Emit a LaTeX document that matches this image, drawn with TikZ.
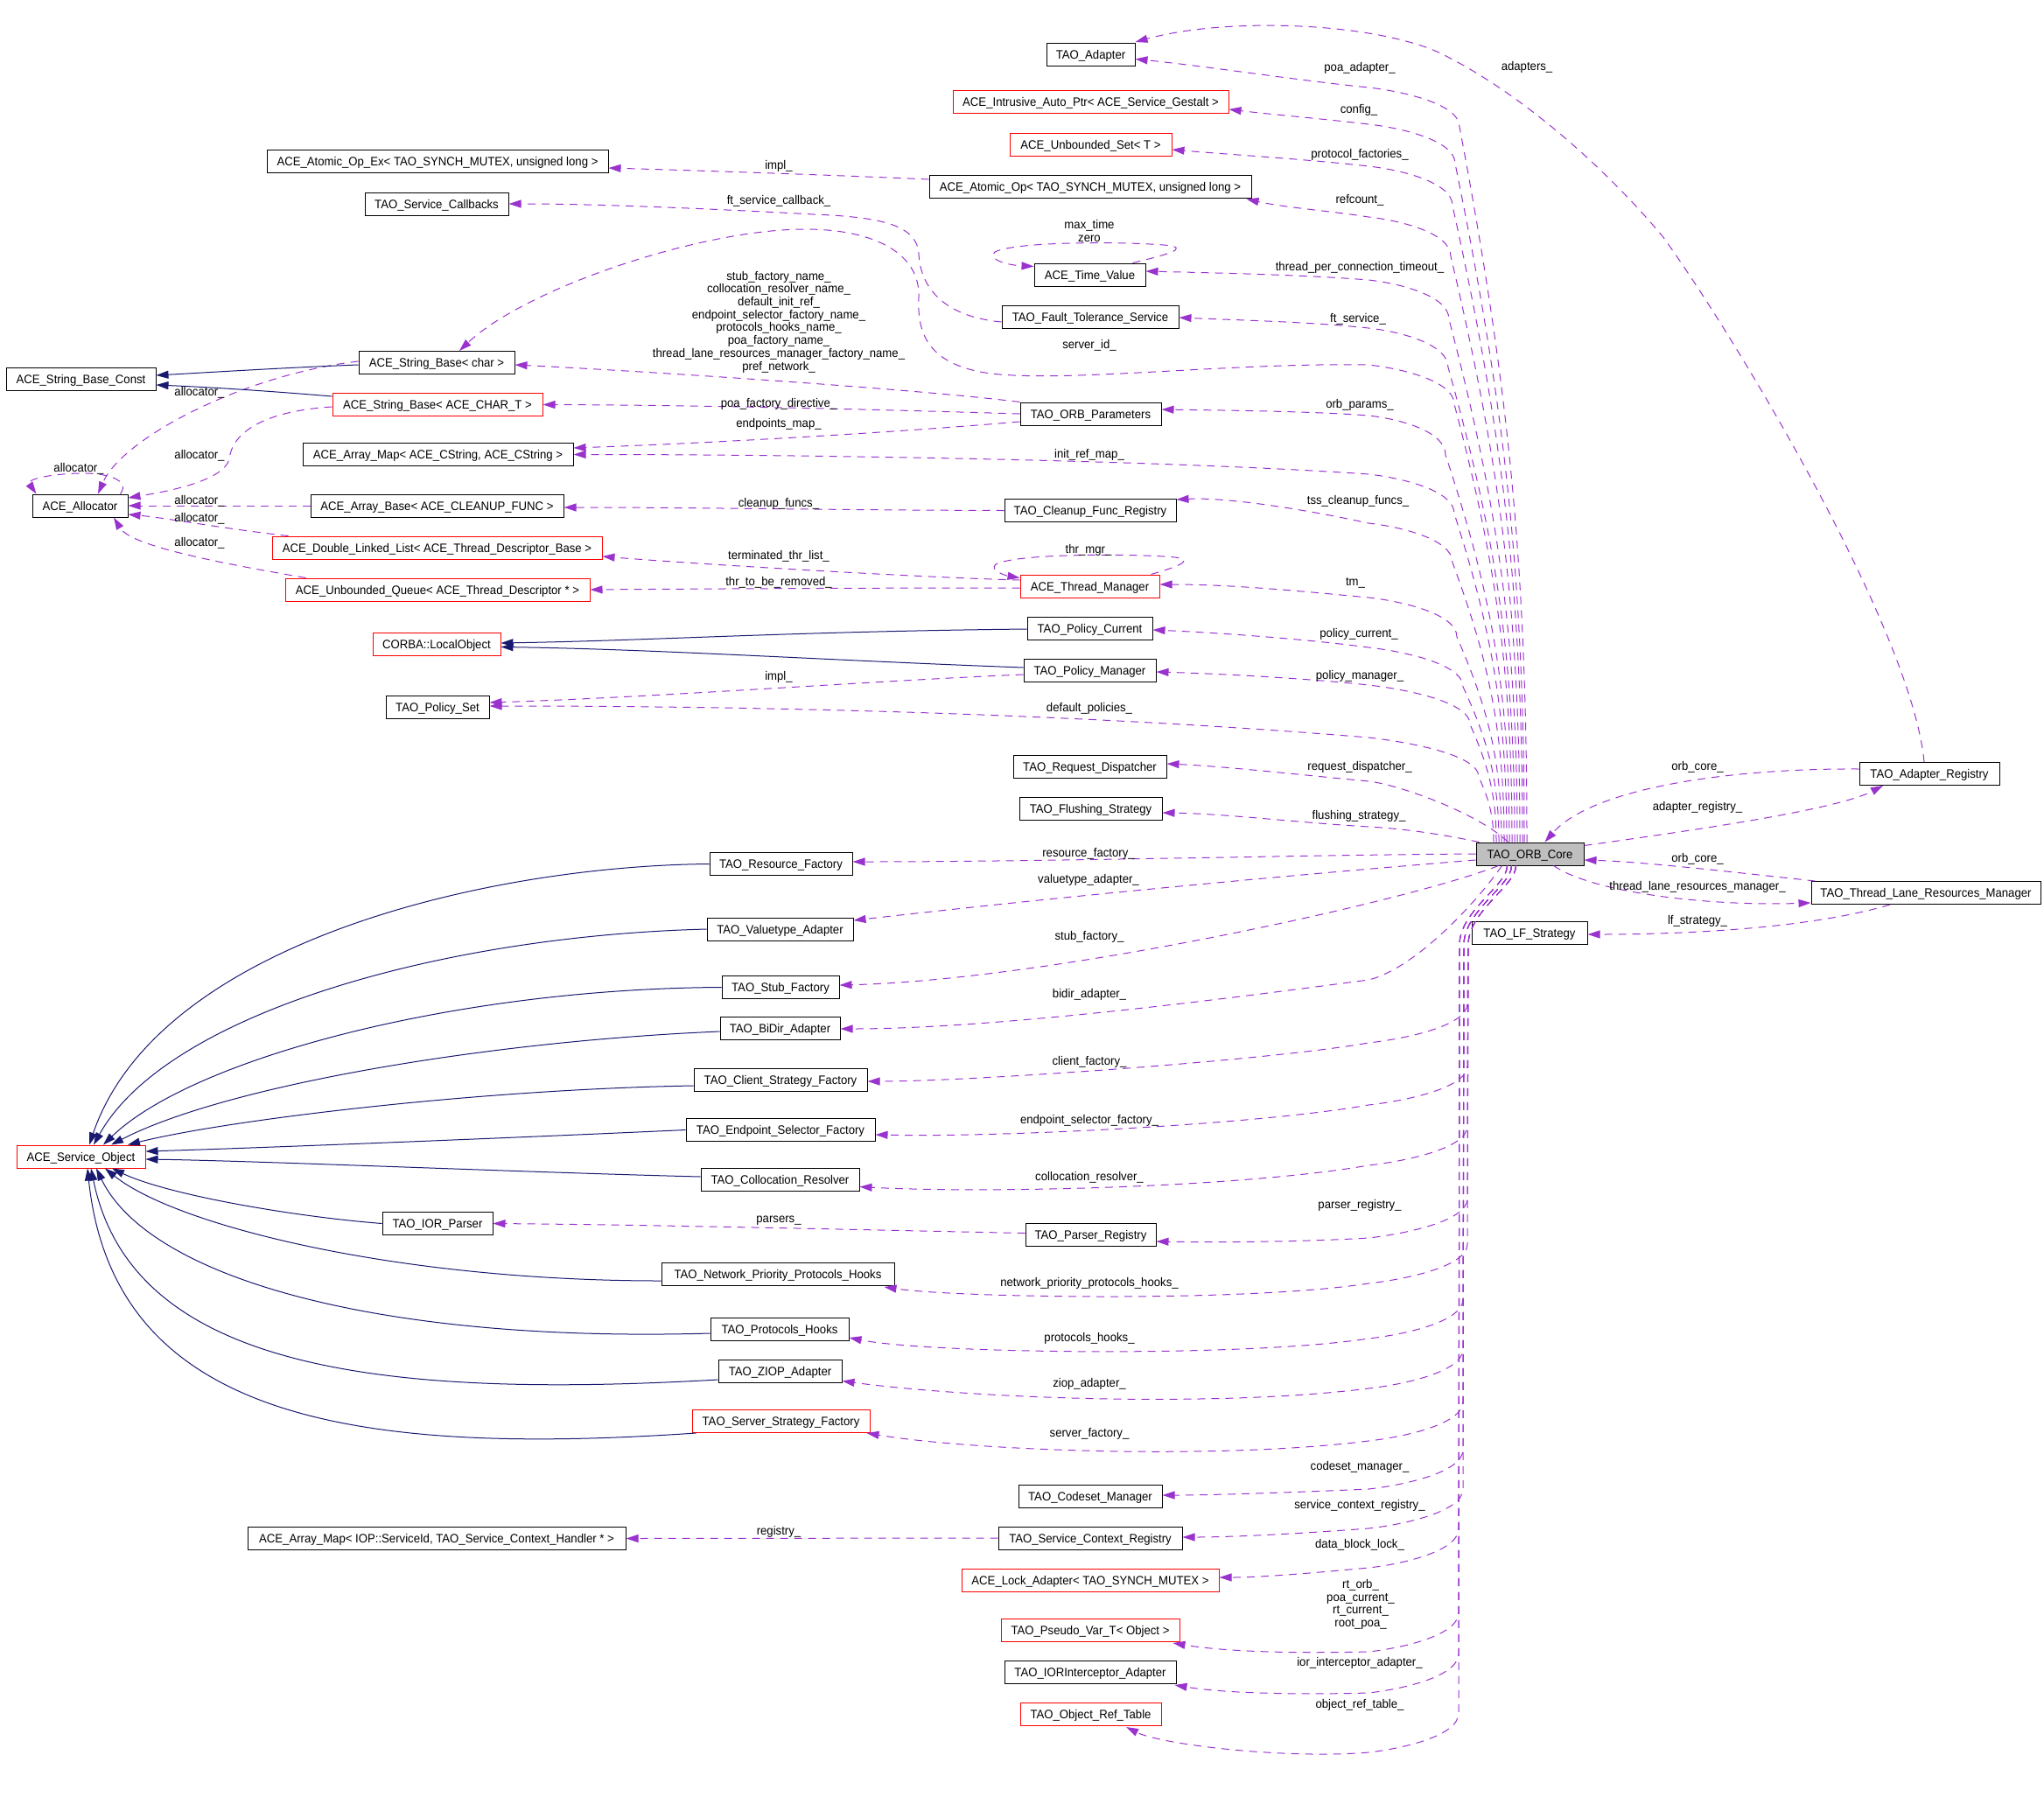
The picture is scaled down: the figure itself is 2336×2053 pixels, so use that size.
\documentclass[tikz,border=0pt]{standalone}
\usepackage{fontspec}
\setmainfont{Liberation Sans}[FakeStretch=0.94]
\usetikzlibrary{arrows.meta,calc}
\definecolor{usecol}{RGB}{154,50,205}
\definecolor{inhcol}{RGB}{25,25,112}
\definecolor{corefill}{RGB}{191,191,191}
% upper usage edge: #1 core x offset, #2 vertical x, #3 y at x=1564, #4 target anchor, #5 end offset, #6 control point, #7 control offset from anchor
\newcommand{\upedge}[7]{%
  \draw[use] ($(core.north)+(#1,0)$) .. controls ({1748.5+(#1)},{963-(918-#3)*0.4}) and ({0.3*#2+0.7*(1748.5+(#1))},{#3+45+(918-#3)*0.35}) .. (#2,{#3+45}) .. controls (#2,{#3+18}) and (1600,{#3+4}) .. (1564,#3) .. controls (#6) and ($(#4)+(#7)$) .. ($(#4)+(#5)$);}
\newcommand{\downedge}[7]{%
  \draw[use] ($(core.south)+(#1,0)$) .. controls ({1748.5+(#1)},1012) and ({#2+3},1040) .. ({#2+1},1078) -- (#2,{#3-45}) .. controls (#2,{#3-18}) and (1600,{#3-4}) .. (1564,#3) .. controls (#6) and ($(#4)+(#7)$) .. ($(#4)+(#5)$);}
\begin{document}
\begin{tikzpicture}[x=1pt,y=-1pt,
  every node/.style={font=\fontsize{14}{14.7}\selectfont},
  box/.style={draw=black, line width=1pt, inner sep=0pt, minimum height=26pt, text height=10pt, text depth=0pt, fill=white},
  rbox/.style={box, draw=red},
  lbl/.style={inner sep=0pt, text height=10pt, text depth=0pt},
  mlbl/.style={inner sep=0pt, align=center},
  use/.style={draw=usecol, line width=1pt, dash pattern=on 9pt off 7pt, -{Triangle[length=14pt,width=9pt]}},
  inh/.style={draw=inhcol, line width=1pt, -{Triangle[length=14pt,width=9pt]}},
]
\useasboundingbox (0,0) rectangle (2336,2053);
% ---------------- nodes ----------------
\node[box, minimum width=101pt] (adapter) at (1246.5,62.5) {TAO\_Adapter};
\node[rbox, minimum width=315pt] (autoptr) at (1246.5,116.5) {ACE\_Intrusive\_Auto\_Ptr< ACE\_Service\_Gestalt >};
\node[rbox, minimum width=185pt] (uset) at (1246.5,165) {ACE\_Unbounded\_Set< T >};
\node[box, minimum width=368pt] (atomic) at (1246,213) {ACE\_Atomic\_Op< TAO\_SYNCH\_MUTEX, unsigned long >};
\node[box, minimum width=390pt] (atomicex) at (500,184.5) {ACE\_Atomic\_Op\_Ex< TAO\_SYNCH\_MUTEX, unsigned long >};
\node[box, minimum width=164pt] (svccb) at (499,233) {TAO\_Service\_Callbacks};
\node[box, minimum width=127pt] (timev) at (1245.5,314) {ACE\_Time\_Value};
\node[box, minimum width=202pt] (ftsvc) at (1246,362) {TAO\_Fault\_Tolerance\_Service};
\node[box, minimum width=178pt] (sbchar) at (499,414.5) {ACE\_String\_Base< char >};
\node[box, minimum width=171pt] (sbconst) at (92.5,433) {ACE\_String\_Base\_Const};
\node[rbox, minimum width=240pt] (sbchart) at (500,462.5) {ACE\_String\_Base< ACE\_CHAR\_T >};
\node[box, minimum width=161pt] (orbparams) at (1246.5,473) {TAO\_ORB\_Parameters};
\node[box, minimum width=309pt] (amapcs) at (500.5,519.5) {ACE\_Array\_Map< ACE\_CString, ACE\_CString >};
\node[box, minimum width=109pt] (alloc) at (91.5,578) {ACE\_Allocator};
\node[box, minimum width=289pt] (abase) at (499.5,578) {ACE\_Array\_Base< ACE\_CLEANUP\_FUNC >};
\node[box, minimum width=196pt] (cleanup) at (1246,583.5) {TAO\_Cleanup\_Func\_Registry};
\node[rbox, minimum width=377pt] (dll) at (499.5,626) {ACE\_Double\_Linked\_List< ACE\_Thread\_Descriptor\_Base >};
\node[rbox, minimum width=348pt] (uqueue) at (500,674) {ACE\_Unbounded\_Queue< ACE\_Thread\_Descriptor * >};
\node[rbox, minimum width=159pt] (thrmgr) at (1245.5,670) {ACE\_Thread\_Manager};
\node[box, minimum width=143pt] (polcur) at (1245.5,718) {TAO\_Policy\_Current};
\node[rbox, minimum width=146pt] (localobj) at (499,736.5) {CORBA::LocalObject};
\node[box, minimum width=151pt] (polmgr) at (1245.5,766) {TAO\_Policy\_Manager};
\node[box, minimum width=118pt] (polset) at (500,808) {TAO\_Policy\_Set};
\node[box, minimum width=175pt] (reqdisp) at (1245.5,876.5) {TAO\_Request\_Dispatcher};
\node[box, minimum width=163pt] (flush) at (1246.5,924.5) {TAO\_Flushing\_Strategy};
\node[box, minimum width=160pt] (adreg) at (2205,884.5) {TAO\_Adapter\_Registry};
\node[box, minimum width=123pt, fill=corefill] (core) at (1748.5,976) {TAO\_ORB\_Core};
\node[box, minimum width=163pt] (resfac) at (892.5,987.5) {TAO\_Resource\_Factory};
\node[box, minimum width=262pt] (tlrm) at (2201,1020.5) {TAO\_Thread\_Lane\_Resources\_Manager};
\node[box, minimum width=167pt] (valadapt) at (891.5,1062) {TAO\_Valuetype\_Adapter};
\node[box, minimum width=132pt] (lfstrat) at (1748,1066) {TAO\_LF\_Strategy};
\node[box, minimum width=134pt] (stubfac) at (892,1128.5) {TAO\_Stub\_Factory};
\node[box, minimum width=137pt] (bidir) at (891.5,1175.5) {TAO\_BiDir\_Adapter};
\node[box, minimum width=198pt] (clistrat) at (892,1234) {TAO\_Client\_Strategy\_Factory};
\node[box, minimum width=216pt] (epsel) at (892,1291.5) {TAO\_Endpoint\_Selector\_Factory};
\node[rbox, minimum width=147pt] (svcobj) at (92.5,1322) {ACE\_Service\_Object};
\node[box, minimum width=181pt] (colloc) at (891.5,1348.5) {TAO\_Collocation\_Resolver};
\node[box, minimum width=126pt] (iorparser) at (500,1398.5) {TAO\_IOR\_Parser};
\node[box, minimum width=149pt] (parsereg) at (1246.5,1411.5) {TAO\_Parser\_Registry};
\node[box, minimum width=266pt] (netprio) at (889,1456.5) {TAO\_Network\_Priority\_Protocols\_Hooks};
\node[box, minimum width=158pt] (prothooks) at (891,1519.5) {TAO\_Protocols\_Hooks};
\node[box, minimum width=141pt] (ziop) at (891.5,1567.5) {TAO\_ZIOP\_Adapter};
\node[rbox, minimum width=203pt] (ssfac) at (892.5,1624.5) {TAO\_Server\_Strategy\_Factory};
\node[box, minimum width=164pt] (codeset) at (1246,1710) {TAO\_Codeset\_Manager};
\node[box, minimum width=210pt] (scr) at (1246,1758) {TAO\_Service\_Context\_Registry};
\node[box, minimum width=432pt] (amapsid) at (499,1758.5) {ACE\_Array\_Map< IOP::ServiceId, TAO\_Service\_Context\_Handler * >};
\node[rbox, minimum width=294pt] (lockad) at (1246,1806) {ACE\_Lock\_Adapter< TAO\_SYNCH\_MUTEX >};
\node[rbox, minimum width=204pt] (pseudo) at (1246,1863.5) {TAO\_Pseudo\_Var\_T< Object >};
\node[box, minimum width=196pt] (iorint) at (1246,1911.5) {TAO\_IORInterceptor\_Adapter};
\node[rbox, minimum width=161pt] (objref) at (1246.5,1959.5) {TAO\_Object\_Ref\_Table};
% ---------------- upper bundle from TAO_ORB_Core ----------------
\upedge{-3.5}{1668}{100}{adapter.east}{0,5}{1484,92}{80,13}
\upedge{-6.5}{1663}{142}{autoptr.east}{0,8.5}{1514,136}{50,14.5}
\upedge{-8.5}{1660}{190}{uset.east}{0,6}{1494,182}{70,12}
\upedge{-11.5}{1658}{248}{atomic.south east}{-6,1}{1520,241}{39,11}
\upedge{-14.5}{1656}{320}{timev.east}{0,-4}{1490,314}{80,-2}
\upedge{-17.5}{1655}{375}{ftsvc.east}{0,1}{1500,368}{70,4}
\upedge{-23.5}{1652}{475}{orbparams.east}{0,-5}{1500,470}{70,-4}
\upedge{-26.5}{1662}{542}{amapcs.east}{0,0}{1350,527}{300,0}
\upedge{-29.5}{1660}{598}{cleanup.north east}{0,1}{1500,584}{60,-2}
\upedge{-32.5}{1665}{683}{thrmgr.east}{0,-2}{1480,675}{80,-2}
\upedge{-35.5}{1672}{740}{polcur.east}{0,2}{1490,730}{70,5}
\upedge{-38.5}{1680}{783}{polmgr.east}{0,2}{1490,775}{70,4}
\upedge{-41.5}{1690}{843}{polset.east}{0,-1}{1300,821}{400,-1}
% server_id_
\draw[use] ($(core.north)+(-20.5,0)$) .. controls (1728,762.6) and ({0.3*1662+0.7*1728},637.4) .. (1662,462) .. controls (1662,435) and (1600,421) .. (1564,417) .. controls (1400,414) and (1200,440) .. (1120,425) .. controls (1060,413) and (1048,380) .. (1050,340) .. controls (1052,290) and (1000,262) .. (920,262) .. controls (800,262) and (600,330) .. ($(sbchar.north)+(26,0)$);
% near ones
\draw[use] ($(core.north)+(-25,0)$) .. controls (1690,930) and (1600,897) .. (1564,893) .. controls (1480,885) and (1400,876) .. ($(reqdisp.east)+(0,-3.5)$);
\draw[use] ($(core.north)+(-58,0)$) .. controls (1640,952) and (1600,947) .. (1564,945) .. controls (1480,940) and (1400,930) .. ($(flush.east)+(0,4.5)$);
\draw[use] (core.west) .. controls (1500,977) and (1200,985) .. ($(resfac.east)+(0,-2.5)$);
\draw[use] ($(core.west)+(0,7)$) .. controls (1600,990) and (1300,1015) .. ($(valadapt.east)+(0,-10)$);
\draw[use] ($(core.south)+(-36,0)$) .. controls (1610,1030) and (1200,1120) .. ($(stubfac.east)+(0,-2.5)$);
\draw[use] ($(core.south)+(-32,0)$) .. controls (1685,1035) and (1615,1108) .. (1564,1120) .. controls (1450,1135) and (1150,1176) .. ($(bidir.east)+(0,0.5)$);
% ---------------- lower bundle ----------------
\downedge{-16}{1677}{1192}{clistrat.east}{0,2}{1450,1212}{120,2}
\downedge{-16}{1677}{1263}{epsel.east}{0,5.5}{1440,1285}{150,8.5}
\downedge{-16}{1677}{1332}{colloc.east}{0,8}{1420,1357}{150,16}
\downedge{-16}{1677}{1415}{parsereg.east}{0,7.5}{1480,1420}{60,8.5}
\downedge{-16}{1677}{1467}{netprio.south east}{-12,1}{1420,1489}{68,13}
\downedge{-21}{1672}{1530}{prothooks.east}{0,9.5}{1420,1552}{90,27.5}
\downedge{-21}{1672}{1587}{ziop.east}{0,11}{1390,1609}{150,31}
\downedge{-21}{1672}{1647}{ssfac.south east}{-4,0}{1390,1669}{116,20}
\downedge{-21}{1672}{1702}{codeset.east}{0,-1}{1500,1705}{60,-1}
\downedge{-21}{1672}{1747}{scr.east}{0,-1}{1500,1752}{60,-1}
\downedge{-26}{1667}{1792}{lockad.east}{0,-3}{1510,1797}{50,-3}
\downedge{-26}{1667}{1888}{pseudo.south east}{-8,1}{1480,1890}{52,11}
\downedge{-26}{1667}{1935}{iorint.south east}{-2,1}{1490,1937}{58,11}
\downedge{-26}{1667}{2003}{objref.south}{40.5,1}{1470,2011}{80.5,21}
% ---------------- right side ----------------
\draw[use] ($(adreg.west)+(0,-5.5)$) .. controls (1980,878) and (1820,900) .. ($(core.north)+(17,0)$);
\draw[use] ($(core.north east)+(0,4)$) .. controls (1950,947) and (2100,925) .. ($(adreg.south)+(-53,0)$);
\draw[use] ($(tlrm.north west)+(5,0)$) .. controls (1990,998) and (1880,985) .. ($(core.east)+(0,7)$);
\draw[use] ($(core.south)+(27,0)$) .. controls (1820,1020) and (1950,1036) .. ($(tlrm.south west)+(0,-2)$);
\draw[use] ($(tlrm.south)+(-41,0)$) .. controls (2080,1058) and (1950,1068) .. ($(lfstrat.east)+(0,2)$);
\draw[use] ($(adreg.north)+(-6,0)$) .. controls (2185,720) and (1980,380) .. (1900,270) .. controls (1820,175) and (1720,95) .. (1640,58) .. controls (1560,25) and (1400,20) .. ($(adapter.north east)+(0,-1)$);
% ---------------- left / middle usage ----------------
\draw[use] ($(atomic.west)+(0,-8)$) .. controls (950,200) and (800,195) .. ($(atomicex.east)+(0,7.5)$);
\draw[use] ($(ftsvc.west)+(0,6)$) .. controls (1080,362) and (1052,330) .. (1050,290) .. controls (1048,255) and (1000,248) .. (930,245) .. controls (800,238) and (680,233) .. (svccb.east);
\draw[use] (orbparams.north west) .. controls (1050,445) and (750,425) .. ($(sbchar.east)+(0,2.5)$);
\draw[use] (orbparams.west) .. controls (1000,468) and (800,463) .. (sbchart.east);
\draw[use] ($(orbparams.west)+(0,9)$) .. controls (1050,492) and (850,505) .. ($(amapcs.east)+(0,-7.5)$);
\draw[use] (cleanup.west) .. controls (950,583) and (800,580) .. ($(abase.east)+(0,2)$);
\draw[use] ($(thrmgr.west)+(0,-7)$) .. controls (1050,660) and (800,645) .. ($(dll.east)+(0,10)$);
\draw[use] ($(thrmgr.west)+(0,2)$) .. controls (1000,672) and (800,673) .. (uqueue.east);
\draw[use] ($(thrmgr.north east)+(-10,0)$) .. controls (1345,648) and (1375,638) .. (1330,636) .. controls (1280,633) and (1160,633) .. (1138,645) .. controls (1130,652) and (1150,658) .. ($(thrmgr.north west)+(0,4)$);
\draw[use] ($(timev.north east)+(-15,0)$) .. controls (1330,292) and (1365,283) .. (1330,280) .. controls (1280,276) and (1160,276) .. (1137,288) .. controls (1128,296) and (1150,303) .. ($(timev.north west)+(0,4)$);
\draw[use] ($(polmgr.west)+(0,5)$) .. controls (1000,778) and (750,797) .. ($(polset.east)+(0,-5)$);
\draw[use] ($(parsereg.west)+(0,-2)$) .. controls (1000,1406) and (750,1400) .. (iorparser.east);
\draw[use] (scr.west) -- (amapsid.east);
% allocator
\draw[use] ($(sbchar.west)+(0,-1.5)$) .. controls (280,428) and (140,500) .. ($(alloc.north)+(20.5,0)$);
\draw[use] ($(sbchart.west)+(0,2.5)$) .. controls (300,470) and (265,495) .. (262,525) .. controls (255,550) and (190,562) .. ($(alloc.east)+(0,-9)$);
\draw[use] ($(alloc.north east)+(-9,0)$) .. controls (150,548) and (120,540) .. (90,541) .. controls (55,542) and (30,548) .. ($(alloc.north west)+(5,0)$);
\draw[use] (abase.west) -- (alloc.east);
\draw[use] ($(dll.north west)+(19,0)$) .. controls (260,605) and (190,592) .. ($(alloc.east)+(0,10)$);
\draw[use] ($(uqueue.north west)+(24,0)$) .. controls (260,645) and (150,625) .. ($(alloc.south)+(38.5,0)$);
% ---------------- inheritance ----------------
\draw[inh] ($(sbchar.west)+(0,2.5)$) .. controls (330,420) and (250,425) .. ($(sbconst.east)+(0,-4)$);
\draw[inh] ($(sbchart.west)+(0,-9.5)$) .. controls (320,448) and (250,443) .. ($(sbconst.east)+(0,7)$);
\draw[inh] ($(polcur.west)+(0,1)$) .. controls (900,722) and (750,732) .. ($(localobj.east)+(0,-1.5)$);
\draw[inh] ($(polmgr.west)+(0,-3)$) .. controls (950,755) and (750,742) .. ($(localobj.east)+(0,3)$);
\draw[inh] (resfac.west) .. controls (550,990) and (180,1080) .. ($(svcobj.north)+(9.5,0)$);
\draw[inh] (valadapt.west) .. controls (500,1070) and (190,1160) .. ($(svcobj.north)+(14.5,0)$);
\draw[inh] (stubfac.west) .. controls (520,1130) and (220,1210) .. ($(svcobj.north)+(25.5,0)$);
\draw[inh] ($(bidir.west)+(0,3.5)$) .. controls (560,1190) and (260,1240) .. ($(svcobj.north)+(34.5,0)$);
\draw[inh] ($(clistrat.west)+(0,7)$) .. controls (550,1245) and (260,1280) .. ($(svcobj.north)+(53.5,0)$);
\draw[inh] (epsel.west) .. controls (600,1300) and (300,1312) .. ($(svcobj.east)+(0,-6)$);
\draw[inh] ($(colloc.west)+(0,-3.5)$) .. controls (600,1340) and (300,1327) .. ($(svcobj.east)+(0,3)$);
\draw[inh] (iorparser.west) .. controls (330,1390) and (190,1365) .. ($(svcobj.south)+(35.5,0)$);
\draw[inh] ($(netprio.west)+(0,7.5)$) .. controls (450,1464) and (200,1400) .. ($(svcobj.south)+(27.5,0)$);
\draw[inh] ($(prothooks.west)+(0,4.5)$) .. controls (430,1535) and (170,1460) .. ($(svcobj.south)+(17.5,0)$);
\draw[inh] ($(ziop.west)+(0,9.5)$) .. controls (420,1600) and (150,1560) .. ($(svcobj.south)+(11.5,0)$);
\draw[inh] ($(ssfac.south west)+(5,0)$) .. controls (400,1665) and (130,1620) .. ($(svcobj.south)+(7.5,0)$);
% ---------------- labels ----------------
\node[lbl] (l01) at (1554,76) {poa\_adapter\_};
\node[lbl] (l02) at (1745,75) {adapters\_};
\node[lbl] (l03) at (1553,124) {config\_};
\node[lbl] (l04) at (1554,175) {protocol\_factories\_};
\node[lbl] (l05) at (890,188) {impl\_};
\node[lbl] (l06) at (1554,227) {refcount\_};
\node[lbl] (l07) at (890,228) {ft\_service\_callback\_};
\node[mlbl] (l08) at (1245,264) {max\_time\\zero};
\node[lbl] (l09) at (1554,304) {thread\_per\_connection\_timeout\_};
\node[lbl] (l10) at (1552,363) {ft\_service\_};
\node[mlbl] (l11) at (890,368) {stub\_factory\_name\_\\collocation\_resolver\_name\_\\default\_init\_ref\_\\endpoint\_selector\_factory\_name\_\\protocols\_hooks\_name\_\\poa\_factory\_name\_\\thread\_lane\_resources\_manager\_factory\_name\_\\pref\_network\_};
\node[lbl] (l12) at (1245,393) {server\_id\_};
\node[lbl] (l13) at (228,447) {allocator\_};
\node[lbl] (l14) at (890,460) {poa\_factory\_directive\_};
\node[lbl] (l15) at (1554,461) {orb\_params\_};
\node[lbl] (l16) at (890,483) {endpoints\_map\_};
\node[lbl] (l17) at (1245,518) {init\_ref\_map\_};
\node[lbl] (l18) at (228,519) {allocator\_};
\node[lbl] (l19) at (90,534) {allocator\_};
\node[lbl] (l20) at (228,571) {allocator\_};
\node[lbl] (l21) at (890,574) {cleanup\_funcs\_};
\node[lbl] (l22) at (1552,571) {tss\_cleanup\_funcs\_};
\node[lbl] (l23) at (228,591) {allocator\_};
\node[lbl] (l24) at (228,619) {allocator\_};
\node[lbl] (l25) at (1244,627) {thr\_mgr\_};
\node[lbl] (l26) at (890,634) {terminated\_thr\_list\_};
\node[lbl] (l27) at (890,664) {thr\_to\_be\_removed\_};
\node[lbl] (l28) at (1549,664) {tm\_};
\node[lbl] (l29) at (1553,723) {policy\_current\_};
\node[lbl] (l30) at (890,772) {impl\_};
\node[lbl] (l31) at (1554,771) {policy\_manager\_};
\node[lbl] (l32) at (1245,808) {default\_policies\_};
\node[lbl] (l33) at (1554,875) {request\_dispatcher\_};
\node[lbl] (l34) at (1940,875) {orb\_core\_};
\node[lbl] (l35) at (1940,921) {adapter\_registry\_};
\node[lbl] (l36) at (1553,931) {flushing\_strategy\_};
\node[lbl] (l37) at (1244,974) {resource\_factory\_};
\node[lbl] (l38) at (1940,980) {orb\_core\_};
\node[lbl] (l39) at (1244,1004) {valuetype\_adapter\_};
\node[lbl] (l40) at (1940,1012) {thread\_lane\_resources\_manager\_};
\node[lbl] (l41) at (1940,1051) {lf\_strategy\_};
\node[lbl] (l42) at (1245,1069) {stub\_factory\_};
\node[lbl] (l43) at (1245,1135) {bidir\_adapter\_};
\node[lbl] (l44) at (1245,1212) {client\_factory\_};
\node[lbl] (l45) at (1245,1279) {endpoint\_selector\_factory\_};
\node[lbl] (l46) at (1245,1344) {collocation\_resolver\_};
\node[lbl] (l47) at (1554,1376) {parser\_registry\_};
\node[lbl] (l48) at (890,1392) {parsers\_};
\node[lbl] (l49) at (1245,1465) {network\_priority\_protocols\_hooks\_};
\node[lbl] (l50) at (1245,1528) {protocols\_hooks\_};
\node[lbl] (l51) at (1245,1580) {ziop\_adapter\_};
\node[lbl] (l52) at (1245,1637) {server\_factory\_};
\node[lbl] (l53) at (1554,1675) {codeset\_manager\_};
\node[lbl] (l54) at (1554,1719) {service\_context\_registry\_};
\node[lbl] (l55) at (890,1749) {registry\_};
\node[lbl] (l56) at (1554,1764) {data\_block\_lock\_};
\node[mlbl] (l57) at (1555,1834) {rt\_orb\_\\poa\_current\_\\rt\_current\_\\root\_poa\_};
\node[lbl] (l58) at (1554,1899) {ior\_interceptor\_adapter\_};
\node[lbl] (l59) at (1554,1947) {object\_ref\_table\_};
\end{tikzpicture}
\end{document}
